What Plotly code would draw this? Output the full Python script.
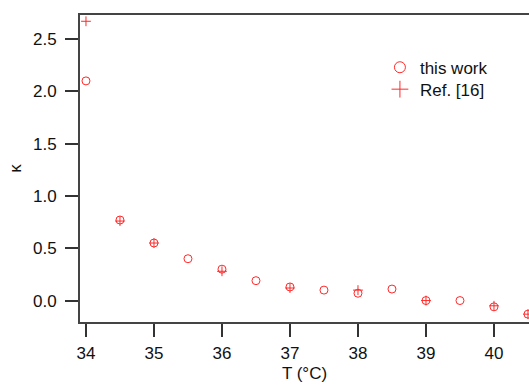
import plotly.graph_objects as go

T_work = [34, 34.5, 35, 35.5, 36, 36.5, 37, 37.5, 38, 38.5, 39, 39.5, 40, 40.5]
kappa_work = [2.10, 0.77, 0.55, 0.40, 0.30, 0.19, 0.13, 0.10, 0.07, 0.11, 0.00, 0.00, -0.06, -0.13]

T_ref = [34, 34.5, 35, 36, 37, 38, 39, 40, 40.5]
kappa_ref = [2.67, 0.76, 0.55, 0.28, 0.12, 0.10, 0.00, -0.05, -0.13]

red = "#ff2a2a"
font = "Liberation Sans, Arial, Helvetica, sans-serif"

fig = go.Figure()
fig.add_trace(go.Scatter(x=T_work, y=kappa_work, mode="markers", name="this work", showlegend=False,
                         marker=dict(symbol="circle-open", size=8, color=red, line=dict(width=1))))
fig.add_trace(go.Scatter(x=T_ref, y=kappa_ref, mode="markers", name="Ref. [16]", showlegend=False,
                         marker=dict(symbol="cross-thin-open", size=7, color=red, line=dict(width=1, color=red))))
# legend entries (larger symbols, as in the original legend)
fig.add_trace(go.Scatter(x=[None], y=[None], mode="markers", name="this work", legend="legend",
                         marker=dict(symbol="circle-open", size=11, color=red, line=dict(width=1))))
fig.add_trace(go.Scatter(x=[None], y=[None], mode="markers", name="Ref. [16]", legend="legend2",
                         marker=dict(symbol="cross-thin-open", size=12, color=red, line=dict(width=1, color=red))))

axis_common = dict(showgrid=False, zeroline=False, showline=True, linecolor="#444",
                   linewidth=2, ticks="outside", ticklen=13, tickwidth=2, tickcolor="#333",
                   tickfont=dict(size=17, color="#111", family=font))

leg_common = dict(xanchor="left", yanchor="top", bgcolor="rgba(0,0,0,0)",
                  font=dict(size=17, family=font))

fig.update_layout(
    width=529, height=387,
    margin=dict(l=80, r=0, t=15, b=65),
    paper_bgcolor="white", plot_bgcolor="white",
    font=dict(family=font, color="#111", size=17),
    xaxis=dict(range=[33.912, 40.515], tickvals=[34, 35, 36, 37, 38, 39, 40], mirror=True,
               ticklabelstandoff=2,
               title=dict(text="T (°C)", font=dict(size=17), standoff=5), **axis_common),
    yaxis=dict(range=[-0.205, 2.73], tickvals=[0, 0.5, 1.0, 1.5, 2.0, 2.5], tickformat=".1f",
               ticklabelstandoff=5,
               title=dict(text="κ", font=dict(size=17), standoff=7), **axis_common),
    legend=dict(x=0.668, y=0.887, **leg_common),
    legend2=dict(x=0.668, y=0.8156, **leg_common),
    showlegend=True,
)

fig.write_html("out.html")
